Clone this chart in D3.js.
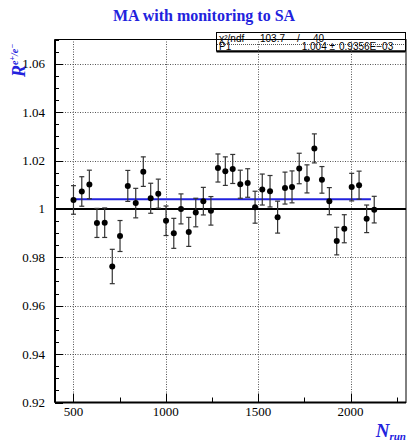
<!DOCTYPE html>
<html>
<head>
<meta charset="utf-8">
<script src="https://cdn.jsdelivr.net/npm/d3@7"></script>
<style>
  body { margin: 0; background: #fff; }
  svg { display: block; }
</style>
</head>
<body>
<svg id="chart" width="407" height="441"></svg>
<script>
// run numbers, ratio R(e+/e-) and its error
var runs = [500, 545, 586, 627, 669, 710, 752, 794, 837, 878,
            918, 959, 1001, 1043, 1082, 1124, 1162, 1203, 1244, 1282,
            1322, 1362, 1403, 1443, 1483, 1522, 1564, 1605, 1645, 1683,
            1722, 1764, 1804, 1845, 1885, 1925, 1966, 2006, 2046, 2087, 2128];
var ratios = [1.0037, 1.0072, 1.0101, 0.9942, 0.9943, 0.9762, 0.9888, 1.0095, 1.0024, 1.0154,
              1.0044, 1.0063, 0.9951, 0.9899, 1.0000, 0.9905, 0.9985, 1.0032, 0.9992, 1.0169,
              1.0156, 1.0165, 1.0102, 1.0107, 1.0007, 1.0080, 1.0073, 0.9966, 1.0086, 1.0091,
              1.0167, 1.0124, 1.0250, 1.0120, 1.0032, 0.9867, 0.9918, 1.0090, 1.0098, 0.9959, 0.9997];
var errors = [0.0059, 0.0061, 0.0059, 0.0060, 0.0061, 0.0071, 0.0064, 0.0064, 0.0061, 0.0061,
              0.0062, 0.0060, 0.0061, 0.0062, 0.0062, 0.0060, 0.0059, 0.0057, 0.0059, 0.0058,
              0.0059, 0.0060, 0.0058, 0.0059, 0.0066, 0.0064, 0.0065, 0.0066, 0.0066, 0.0066,
              0.0063, 0.0058, 0.0060, 0.0055, 0.0056, 0.0057, 0.0058, 0.0057, 0.0058, 0.0057, 0.0055];

// fit result (constant P1) and its range
var fitValue = 1.004;
var fitRange = [500, 2110];

var xTicks = [500, 1000, 1500, 2000];
var yTicks = [0.92, 0.94, 0.96, 0.98, 1.00, 1.02, 1.04, 1.06];

var statRows = [
  ["\u03C7\u00B2/ndf", "103.7", "/", "40"],
  ["P1", "1.004 \u00B1", "0.9356E\u221203"]
];

var svg = d3.select("#chart");
var padL = 55, padR = 406, padT = 39.5, padB = 402.5;

var x = d3.scaleLinear().domain([400, 2300]).range([padL, padR]);
var y = d3.scaleLinear().domain([0.92, 1.07]).range([padB, padT]);

var blue = "#2222dd";
var serif = "'Liberation Serif', 'Times New Roman', serif";
var sans = "'Liberation Sans', Helvetica, Arial, sans-serif";

// title
svg.append("text")
    .attr("x", 204).attr("y", 21)
    .attr("text-anchor", "middle")
    .style("font-family", serif)
    .style("font-weight", "bold")
    .style("font-size", "16px")
    .style("fill", blue)
    .text("MA with monitoring to SA");

// stats box (sits over the top of the frame)
var box = svg.append("g");
box.append("rect")
    .attr("x", 216.5).attr("y", 32.5)
    .attr("width", 189).attr("height", 18.5)
    .style("fill", "#fff").style("stroke", "#000").style("stroke-width", 1);
box.append("line")
    .attr("x1", 216.5).attr("x2", 405.5).attr("y1", 51.5).attr("y2", 51.5)
    .style("stroke", "#000").style("stroke-width", 2);
box.append("line")
    .attr("x1", 217).attr("x2", 405).attr("y1", 44.5).attr("y2", 44.5)
    .style("stroke", "#555").style("stroke-width", 1).style("stroke-dasharray", "1,1");

// dotted grid
var grid = svg.append("g")
    .style("stroke", "#555")
    .style("stroke-width", 1)
    .style("stroke-dasharray", "1,1.5");
grid.selectAll(".gx")
    .data(xTicks)
    .enter().append("line")
    .attr("x1", function(d) { return Math.round(x(d)) + 0.5; })
    .attr("x2", function(d) { return Math.round(x(d)) + 0.5; })
    .attr("y1", padB).attr("y2", padT);
grid.selectAll(".gy")
    .data(yTicks.filter(function(d) { return d > 0.921 && Math.abs(d - 1) > 1e-6; }))
    .enter().append("line")
    .attr("x1", padL).attr("x2", padR)
    .attr("y1", function(d) { return Math.round(y(d)) + 0.5; })
    .attr("y2", function(d) { return Math.round(y(d)) + 0.5; });

// stats text
var statText = box.append("g")
    .style("font-family", sans)
    .style("font-size", "10px")
    .style("fill", "#000");
statText.append("text").attr("x", 219).attr("y", 42).text(statRows[0][0]);
statText.append("text").attr("x", 260).attr("y", 42).text(statRows[0][1]);
statText.append("text").attr("x", 297).attr("y", 42).text(statRows[0][2]);
statText.append("text").attr("x", 324).attr("y", 42).attr("text-anchor", "end").text(statRows[0][3]);
statText.append("text").attr("x", 219).attr("y", 50).text(statRows[1][0]);
statText.append("text").attr("x", 335).attr("y", 50).attr("text-anchor", "end").text(statRows[1][1]);
statText.append("text").attr("x", 339).attr("y", 50).text(statRows[1][2]);

// frame
svg.append("rect")
    .attr("x", padL).attr("y", padT)
    .attr("width", padR - padL).attr("height", padB - padT)
    .style("fill", "none").style("stroke", "#000").style("stroke-width", 1);
svg.append("line")
    .attr("x1", padL).attr("x2", padL).attr("y1", padT).attr("y2", padB)
    .style("stroke", "#000").style("stroke-width", 2);
svg.append("line")
    .attr("x1", padL).attr("x2", padR).attr("y1", padB).attr("y2", padB)
    .style("stroke", "#000").style("stroke-width", 2);

// y axis ticks (inside) and labels
var yMinor = d3.range(0, 31).map(function(i) { return 0.92 + i * 0.005; });
svg.selectAll(".ytick")
    .data(yMinor)
    .enter().append("line")
    .attr("x1", padL)
    .attr("x2", function(d, i) { return padL + (i % 4 === 0 ? 8 : 4); })
    .attr("y1", function(d) { return Math.round(y(d)) + 0.5; })
    .attr("y2", function(d) { return Math.round(y(d)) + 0.5; })
    .style("stroke", "#000").style("stroke-width", 1);
svg.selectAll(".ylab")
    .data(yTicks)
    .enter().append("text")
    .attr("x", 45)
    .attr("y", function(d) { return y(d) + 4.5; })
    .attr("text-anchor", "end")
    .style("font-family", serif)
    .style("font-size", "13px")
    .text(function(d) { return Math.abs(d - 1) < 1e-6 ? "1" : d3.format(".2f")(d); });

// x axis ticks (inside) and labels
var xMinor = d3.range(500, 2300, 250);
svg.selectAll(".xtick")
    .data(xMinor)
    .enter().append("line")
    .attr("x1", function(d) { return Math.round(x(d)) + 0.5; })
    .attr("x2", function(d) { return Math.round(x(d)) + 0.5; })
    .attr("y1", padB)
    .attr("y2", function(d) { return padB - (d % 500 === 0 ? 9 : 5); })
    .style("stroke", "#000").style("stroke-width", 1);
svg.selectAll(".xlab")
    .data(xTicks)
    .enter().append("text")
    .attr("x", function(d) { return x(d); })
    .attr("y", 416)
    .attr("text-anchor", "middle")
    .style("font-family", serif)
    .style("font-size", "13px")
    .text(function(d) { return d; });

// reference line at 1
svg.append("line")
    .attr("x1", padL).attr("x2", padR)
    .attr("y1", y(1)).attr("y2", y(1))
    .style("stroke", "#000").style("stroke-width", 2);

// fit line
svg.append("line")
    .attr("x1", x(fitRange[0])).attr("x2", x(fitRange[1]))
    .attr("y1", y(fitValue)).attr("y2", y(fitValue))
    .style("stroke", blue).style("stroke-width", 2);

// data with error bars
var pts = svg.selectAll(".pt")
    .data(runs.map(function(r, i) { return {run: r, v: ratios[i], e: errors[i]}; }))
    .enter().append("g");
pts.append("line")
    .attr("x1", function(d) { return x(d.run); })
    .attr("x2", function(d) { return x(d.run); })
    .attr("y1", function(d) { return y(d.v - d.e); })
    .attr("y2", function(d) { return y(d.v + d.e); })
    .style("stroke", "#333").style("stroke-width", 1.2);
[-1, 1].forEach(function(s) {
  pts.append("line")
      .attr("x1", function(d) { return x(d.run) - 2.5; })
      .attr("x2", function(d) { return x(d.run) + 2.5; })
      .attr("y1", function(d) { return y(d.v + s * d.e); })
      .attr("y2", function(d) { return y(d.v + s * d.e); })
      .style("stroke", "#333").style("stroke-width", 1.2);
});
pts.append("circle")
    .attr("cx", function(d) { return x(d.run); })
    .attr("cy", function(d) { return y(d.v); })
    .attr("r", 3)
    .style("fill", "#000");

// y title R^{e+/e-}
var yt = svg.append("text")
    .attr("transform", "translate(25,77) rotate(-90)")
    .style("font-family", serif)
    .style("font-weight", "bold")
    .style("font-style", "italic")
    .style("fill", blue);
yt.append("tspan").style("font-size", "18px").text("R");
yt.append("tspan").style("font-size", "10px").attr("dy", -7).text("e");
yt.append("tspan").style("font-size", "8px").attr("dy", -3).text("+");
yt.append("tspan").style("font-size", "10px").attr("dy", 3).text("/e");
yt.append("tspan").style("font-size", "8px").attr("dy", -3).text("\u2212");

// x title N_run
var xt = svg.append("text")
    .attr("x", 406).attr("y", 437)
    .attr("text-anchor", "end")
    .style("font-family", serif)
    .style("font-weight", "bold")
    .style("font-style", "italic")
    .style("fill", blue);
xt.append("tspan").style("font-size", "19px").text("N");
xt.append("tspan").style("font-size", "11px").attr("dy", 3).text("run");
</script>
</body>
</html>
